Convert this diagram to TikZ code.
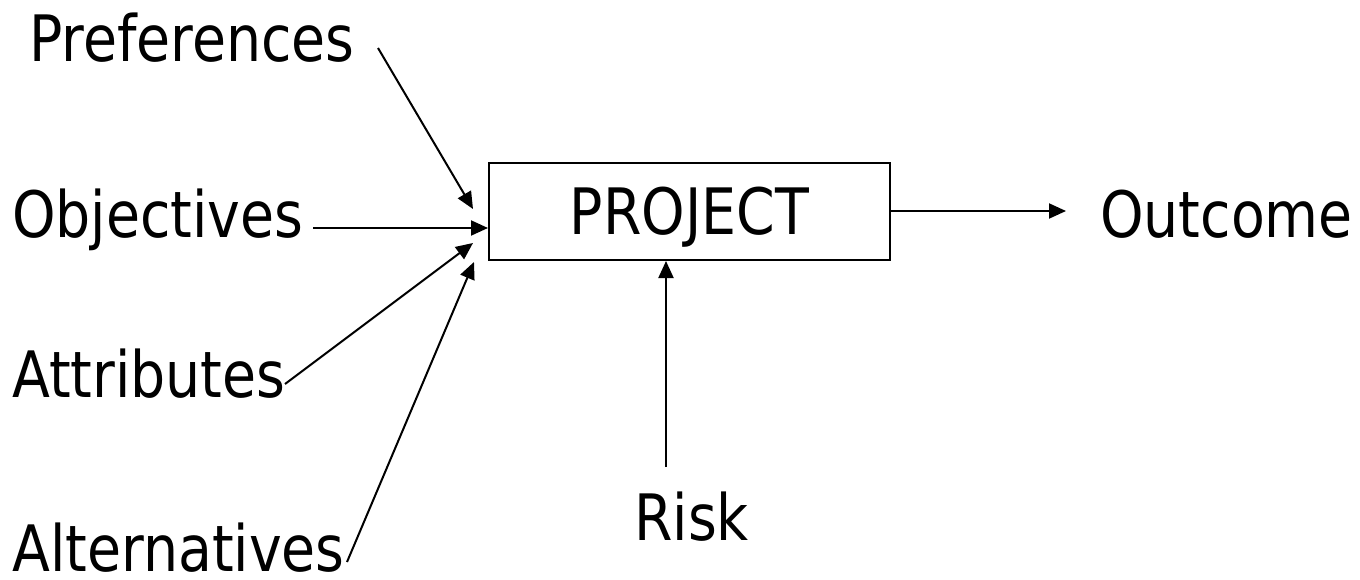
\documentclass[tikz,border=0pt]{standalone}
\usepackage{fontspec}
\setmainfont{DejaVu Sans}[FakeStretch=0.865]
\usetikzlibrary{arrows.meta}
\begin{document}
\begin{tikzpicture}[x=1pt,y=-1pt,
  lbl/.style={inner sep=0pt, font=\fontsize{64}{64}\selectfont, anchor=base west},
  arr/.style={line width=2pt, -{Triangle[length=17pt,width=15pt]}},
  boxnode/.style={draw, line width=2pt, minimum width=401pt, minimum height=97pt, inner sep=0pt,
    text height=47pt, text depth=0pt, font=\fontsize{64}{64}\selectfont}]
\useasboundingbox (0,0) rectangle (1360,580);
\node[lbl] (pref) at (29,62) {Preferences};
\node[lbl] (obj) at (12,237) {Objectives};
\node[lbl] (attr) at (12,397) {Attributes};
\node[lbl] (alt) at (12,571) {Alternatives};
\node[lbl] (risk) at (634,540) {Risk};
\node[lbl] (out) at (1100,237) {Outcome};
\node[boxnode] (proj) at (689.5,211.5) {PROJECT};
\coordinate (sP) at (378,48);
\coordinate (tP) at (473,209);
\coordinate (sO) at (313,228);
\coordinate (tO) at (proj.west |- sO);
\coordinate (sA) at (285,384);
\coordinate (tA) at (473,243);
\coordinate (sL) at (347,562);
\coordinate (tL) at (474,262);
\coordinate (sR) at (666,467);
\coordinate (tR) at (sR |- proj.south);
\coordinate (sU) at (proj.east |- 0,211);
\coordinate (tU) at (1066,211);
\draw[arr] (sP) -- (tP);
\draw[arr] (sO) -- (tO);
\draw[arr] (sA) -- (tA);
\draw[arr] (sL) -- (tL);
\draw[arr] (sR) -- (tR);
\draw[arr] (sU) -- (tU);
\end{tikzpicture}
\end{document}
